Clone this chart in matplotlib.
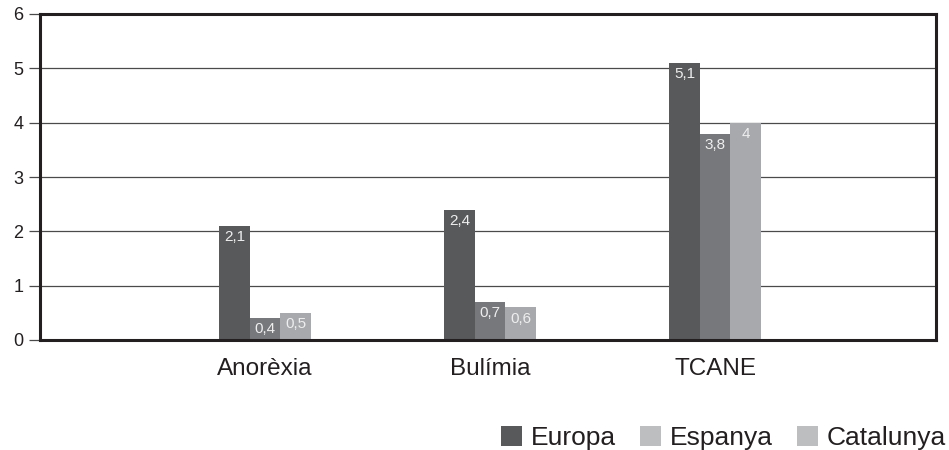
import matplotlib
matplotlib.use("Agg")
import matplotlib.pyplot as plt
from matplotlib.patches import Patch

plt.rcParams['font.family'] = ['Liberation Sans', 'DejaVu Sans']

categories = ["Anorèxia", "Bulímia", "TCANE"]
series_names = ["Europa", "Espanya", "Catalunya"]
europa = [2.1, 2.4, 5.1]
espanya = [0.4, 0.7, 3.8]
catalunya = [0.5, 0.6, 4.0]
value_labels = [["2,1", "2,4", "5,1"], ["0,4", "0,7", "3,8"], ["0,5", "0,6", "4"]]
y_ticks = [0, 1, 2, 3, 4, 5, 6]

bar_colors = ["#58595b", "#77787b", "#a7a9ac"]
legend_colors = ["#58595b", "#bcbec0", "#bcbec0"]
frame_color = "#231f20"
grid_color = "#4a4a4a"

fig = plt.figure(figsize=(9.49, 4.5), dpi=100)
ax = fig.add_axes([40 / 949, 110 / 450, 896 / 949, 326 / 450])

positions = [1, 2, 3]
width = 0.136
offsets = [-width, 0, width]
for values, labels, color, off in zip([europa, espanya, catalunya], value_labels, bar_colors, offsets):
    xs = [p + off for p in positions]
    bars = ax.bar(xs, values, width=width, color=color, zorder=2)
    for bar, v, lab in zip(bars, values, labels):
        ax.annotate(lab, (bar.get_x() + bar.get_width() / 2, v),
                    xytext=(0, -3), textcoords="offset points",
                    ha="center", va="top", fontsize=11, color="#eeeeee", zorder=3)

ax.set_xlim(0, 3.982)
ax.set_ylim(0, 6)
ax.set_yticks(y_ticks)
ax.set_yticklabels([str(t) for t in y_ticks])
ax.set_xticks(positions)
ax.set_xticklabels(categories)

ax.yaxis.grid(True, color=grid_color, linewidth=0.9)
ax.set_axisbelow(True)
ax.tick_params(axis="y", length=8, width=0.9, color=grid_color, pad=4,
               labelsize=13, labelcolor="#231f20")
ax.tick_params(axis="x", length=0, pad=13, labelsize=17.5, labelcolor="#231f20")

for side in ["left", "right", "top", "bottom"]:
    ax.spines[side].set_color(frame_color)
    ax.spines[side].set_linewidth(2.2)

handles = [Patch(facecolor=c, edgecolor="none", label=n) for c, n in zip(legend_colors, series_names)]
fig.legend(handles=handles, loc="lower right", bbox_to_anchor=(946 / 949, 0),
           ncol=3, frameon=False, fontsize=19, handlelength=0.8, handleheight=0.76,
           handletextpad=0.34, columnspacing=0.9, borderpad=0, borderaxespad=0,
           labelcolor="#231f20")

fig.savefig("out.png", dpi=100)
